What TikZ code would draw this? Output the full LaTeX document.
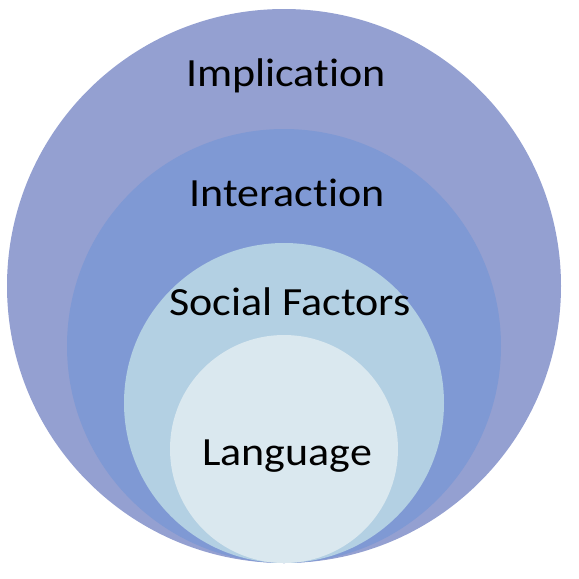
\documentclass[tikz,border=0pt]{standalone}
\usepackage{fontspec}
\setmainfont{Carlito}[Ligatures={NoCommon}, RawFeature={-liga}, FakeStretch=1.1]
\definecolor{ringA}{RGB}{148,160,209}
\definecolor{ringB}{RGB}{127,153,212}
\definecolor{ringC}{RGB}{179,208,227}
\definecolor{ringD}{RGB}{218,232,239}
\tikzset{label text/.style={anchor=base, inner sep=0pt, font=\fontsize{40}{48}\selectfont, text=black}}
\begin{document}
\begin{tikzpicture}[x=1pt,y=-1pt]
\useasboundingbox (0,0) rectangle (579,579);
\fill[ringA] (284,286) circle[radius=277];
\fill[ringB] (284,346) circle[radius=217];
\fill[ringC] (284,403) circle[radius=160];
\fill[ringD] (284,449) circle[radius=114];
\node[label text] (impl) at (286,86) {Implication};
\node[label text] (inter) at (287,206) {Interaction};
\node[label text] (social) at (290,315) {Social Factors};
\node[label text] (lang) at (287,465) {Language};
\end{tikzpicture}
\end{document}
